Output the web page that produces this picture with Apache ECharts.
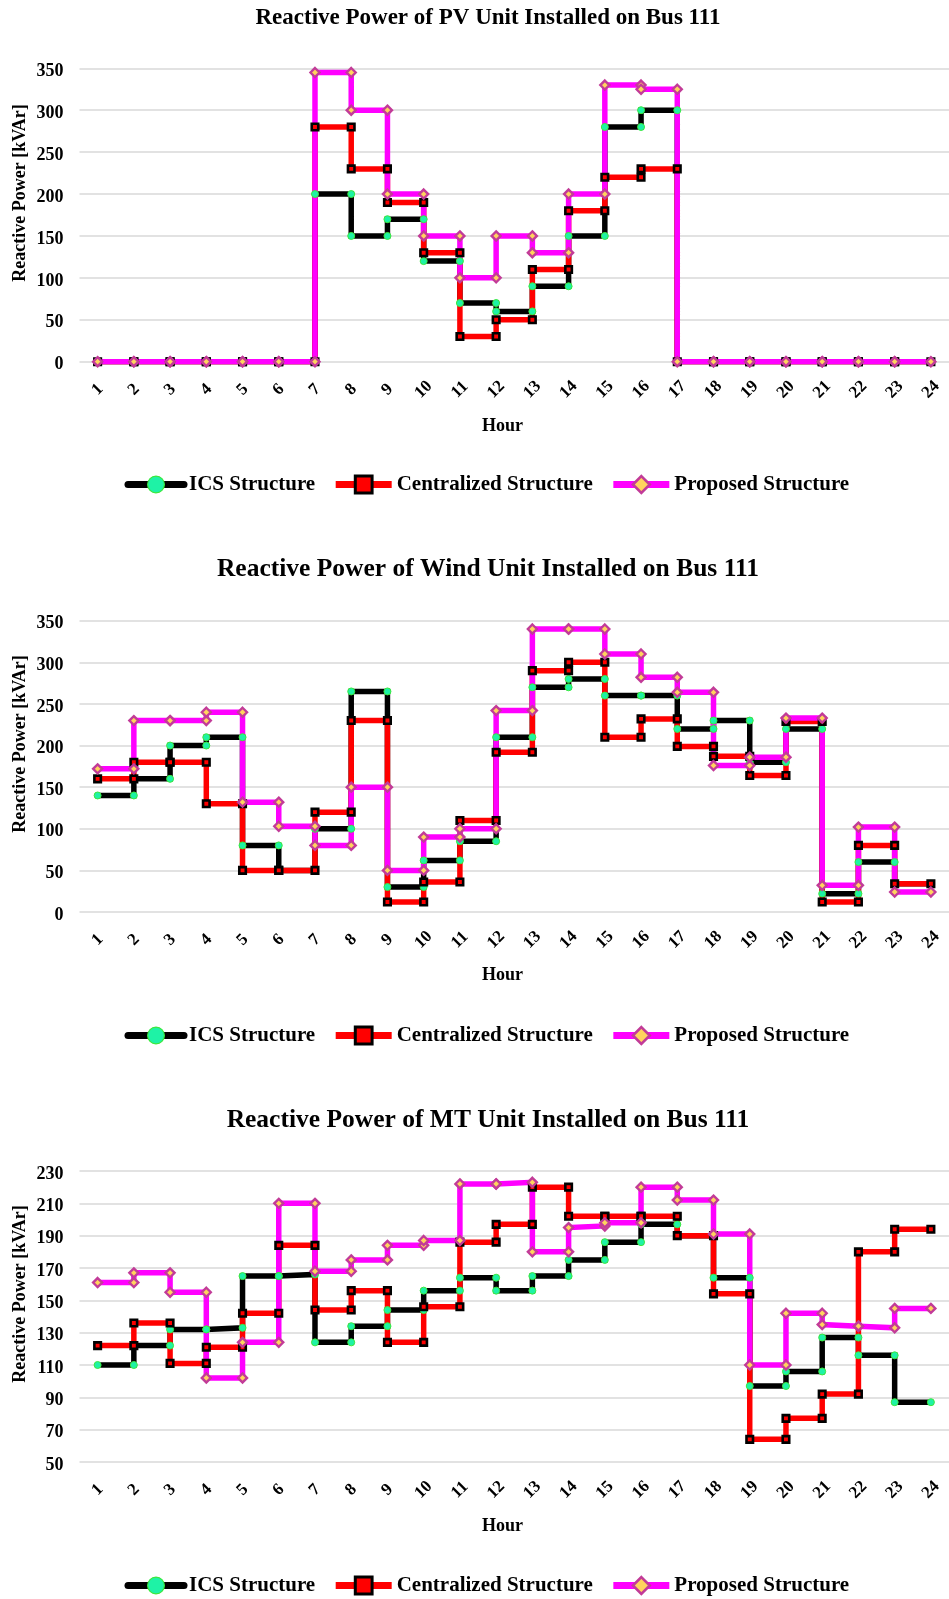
<!DOCTYPE html>
<html>
<head>
<meta charset="utf-8">
<script src="https://cdn.jsdelivr.net/npm/echarts@6/dist/echarts.min.js"></script>
<style>
  html, body { margin: 0; padding: 0; background: #fff; }
  #chart { width: 949px; height: 1599px; }
</style>
</head>
<body>
<div id="chart"></div>
<script>
// Hour labels for the horizontal axes
const HOURS = ['1','2','3','4','5','6','7','8','9','10','11','12','13','14','15','16','17','18','19','20','21','22','23','24'];

// Each entry is one hourly step [value at hour h, value at hour h+1] (kVAr), h = 1..23
// PV unit
const pvIcs = [[0,0],[0,0],[0,0],[0,0],[0,0],[0,0],[200,200],[150,150],[170,170],[120,120],[70,70],[60,60],[90,90],[150,150],[280,280],[300,300],[0,0],[0,0],[0,0],[0,0],[0,0],[0,0],[0,0]];
const pvCentralized = [[0,0],[0,0],[0,0],[0,0],[0,0],[0,0],[280,280],[230,230],[190,190],[130,130],[30,30],[50,50],[110,110],[180,180],[220,220],[230,230],[0,0],[0,0],[0,0],[0,0],[0,0],[0,0],[0,0]];
const pvProposed = [[0,0],[0,0],[0,0],[0,0],[0,0],[0,0],[345,345],[300,300],[200,200],[150,150],[100,100],[150,150],[130,130],[200,200],[330,330],[325,325],[0,0],[0,0],[0,0],[0,0],[0,0],[0,0],[0,0]];

// Wind unit
const windIcs = [[140,140],[160,160],[200,200],[210,210],[80,80],[50,50],[100,100],[265,265],[30,30],[62,62],[85,85],[210,210],[270,270],[280,280],[260,260],[260,260],[220,220],[230,230],[180,180],[220,220],[22,22],[60,60],[34,34]];
const windCentralized = [[160,160],[180,180],[180,180],[130,130],[50,50],[50,50],[120,120],[230,230],[12,12],[36,36],[110,110],[192,192],[290,290],[300,300],[210,210],[232,232],[199,199],[187,187],[164,164],[229,229],[12,12],[80,80],[34,34]];
const windProposed = [[172,172],[230,230],[230,230],[240,240],[132,132],[103,103],[80,80],[150,150],[50,50],[90,90],[100,100],[242,242],[340,340],[340,340],[310,310],[282,282],[264,264],[176,176],[186,186],[233,233],[32,32],[102,102],[24,24]];

// MT unit
const mtIcs = [[110,110],[122,122],[132,132],[132,133],[165,165],[165,166],[124,124],[134,134],[144,144],[156,156],[164,164],[156,156],[165,165],[175,175],[186,186],[197,197],[190,190],[164,164],[97,97],[106,106],[127,127],[116,116],[87,87]];
const mtCentralized = [[122,122],[136,136],[111,111],[121,121],[142,142],[184,184],[144,144],[156,156],[124,124],[146,146],[186,186],[197,197],[220,220],[202,202],[202,202],[202,202],[190,190],[154,154],[64,64],[77,77],[92,92],[180,180],[194,194]];
const mtProposed = [[161,161],[167,167],[155,155],[102,102],[124,124],[210,210],[168,168],[175,175],[184,184],[187,187],[222,222],[222,223],[180,180],[195,196],[198,198],[220,220],[212,212],[191,191],[110,110],[142,142],[135,134],[134,133],[145,145]];

const SERIES_NAMES = ['ICS Structure', 'Centralized Structure', 'Proposed Structure'];
const TITLES = [
  'Reactive Power of PV Unit Installed on Bus 111',
  'Reactive Power of Wind Unit Installed on Bus 111',
  'Reactive Power of MT Unit Installed on Bus 111'
];
const Y_NAME = 'Reactive Power [kVAr]';
const X_NAME = 'Hour';

const SERIF = '"Liberation Serif", "Times New Roman", serif';

// Visual style of the three structures
const STYLES = [
  { line: '#000000', symbol: 'circle', size: 7, fill: '#1ef2a6', border: '#3ce83c', bw: 1, legendBw: 1.2, cap: 'round' },
  { line: '#ff0000', symbol: 'rect', size: 6.5, fill: '#ff0000', border: '#000000', bw: 2.6, legendBw: 3, cap: 'butt' },
  { line: '#ff00ff', symbol: 'diamond', size: 9, fill: '#ffd45e', border: '#c23b98', bw: 2.4, legendBw: 2.6, cap: 'butt' }
];

// Panel layout (pixels)
const PANELS = [
  { data: [pvIcs, pvCentralized, pvProposed], min: 0, max: 350, interval: 50,
    top: 68.3, height: 293.4, title: { y: 18.5, size: 23 }, yName: 193, hourY: 426, legendTop: 474 },
  { data: [windIcs, windCentralized, windProposed], min: 0, max: 350, interval: 50,
    top: 620.7, height: 291.3, title: { y: 569, size: 25.5 }, yName: 744, hourY: 975.5, legendTop: 1025 },
  { data: [mtIcs, mtCentralized, mtProposed], min: 50, max: 230, interval: 20,
    top: 1171, height: 291, title: { y: 1120, size: 25.5 }, yName: 1294, hourY: 1526, legendTop: 1575 }
];

// Turn hourly steps into category-indexed points
function toPoints(steps) {
  const pts = [];
  steps.forEach((s, i) => { pts.push([i, s[0]]); pts.push([i + 1, s[1]]); });
  return pts;
}

const grid = [], xAxis = [], yAxis = [], series = [], legend = [], graphic = [];

PANELS.forEach((p, k) => {
  grid.push({ left: 79.5, top: p.top, width: 878, height: p.height });
  xAxis.push({
    type: 'category', gridIndex: k, data: HOURS, boundaryGap: true,
    axisLine: { show: false }, axisTick: { show: false }, splitLine: { show: false },
    axisLabel: {
      interval: 0, rotate: 45, align: 'center', verticalAlign: 'middle', margin: 28,
      color: '#000', fontFamily: SERIF, fontWeight: 'bold', fontSize: 17
    }
  });
  yAxis.push({
    type: 'value', gridIndex: k, min: p.min, max: p.max, interval: p.interval,
    axisLine: { show: false }, axisTick: { show: false },
    splitLine: { show: true, lineStyle: { color: '#d9d9d9', width: 1.6 } },
    axisLabel: {
      margin: 16, color: '#000', fontFamily: SERIF, fontWeight: 'bold', fontSize: 18,
      verticalAlign: 'top', lineHeight: 6
    }
  });

  // connecting lines (black below red below magenta)
  p.data.forEach((steps, j) => {
    const st = STYLES[j];
    series.push({
      type: 'line', name: SERIES_NAMES[j], xAxisIndex: k, yAxisIndex: k,
      data: toPoints(steps), showSymbol: false, symbol: st.symbol, symbolSize: st.size,
      z: 2 + j, clip: true, animation: false,
      lineStyle: { color: st.line, width: 5.5, cap: st.cap, join: 'miter' },
      itemStyle: { color: st.fill, borderColor: st.border, borderWidth: st.bw },
      emphasis: { disabled: true }
    });
  });
  // markers drawn above all lines
  p.data.forEach((steps, j) => {
    const st = STYLES[j];
    series.push({
      type: 'scatter', name: SERIES_NAMES[j], xAxisIndex: k, yAxisIndex: k,
      data: toPoints(steps), symbol: st.symbol, symbolSize: st.size,
      z: 10 + j, animation: false,
      itemStyle: { color: st.fill, borderColor: st.border, borderWidth: st.bw, opacity: 1 },
      emphasis: { disabled: true }
    });
  });

  legend.push({
    left: 124.5, top: p.legendTop, orient: 'horizontal', padding: 0,
    itemWidth: 56, itemHeight: 21, itemGap: 17,
    selectedMode: false,
    textStyle: { color: '#000', fontFamily: SERIF, fontWeight: 'bold', fontSize: 21 },
    data: SERIES_NAMES.map((n, j) => ({
      name: n,
      itemStyle: { color: STYLES[j].fill, borderColor: STYLES[j].border, borderWidth: STYLES[j].legendBw },
      lineStyle: { color: STYLES[j].line, width: 7, cap: STYLES[j].cap }
    }))
  });

  graphic.push({
    type: 'text', x: 488, y: p.title.y,
    style: { text: TITLES[k], font: 'bold ' + p.title.size + 'px ' + SERIF, fill: '#000',
             align: 'center', verticalAlign: 'middle', textAlign: 'center', textVerticalAlign: 'middle' }
  });
  graphic.push({
    type: 'text', x: 20.5, y: p.yName, rotation: Math.PI / 2,
    style: { text: Y_NAME, font: 'bold 18px ' + SERIF, fill: '#000',
             align: 'center', verticalAlign: 'middle', textAlign: 'center', textVerticalAlign: 'middle' }
  });
  graphic.push({
    type: 'text', x: 502.5, y: p.hourY,
    style: { text: X_NAME, font: 'bold 18px ' + SERIF, fill: '#000',
             align: 'center', verticalAlign: 'middle', textAlign: 'center', textVerticalAlign: 'middle' }
  });
});

const chart = echarts.init(document.getElementById('chart'), null, { renderer: 'canvas' });
chart.setOption({
  backgroundColor: '#ffffff',
  animation: false,
  grid, xAxis, yAxis, series, legend,
  graphic: { elements: graphic }
});
</script>
</body>
</html>
